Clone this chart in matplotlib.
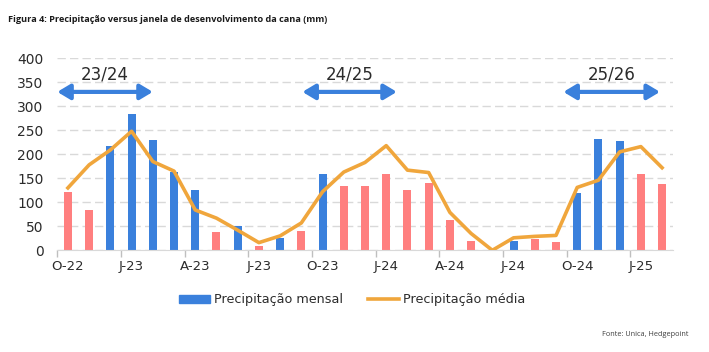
import matplotlib
matplotlib.use("Agg")
import matplotlib.pyplot as plt
import numpy as np
from matplotlib.patches import Patch
from matplotlib.lines import Line2D

months = ["O-22","N-22","D-22","J-23","F-23","M-23","A-23","M-23","J-23","J-23","A-23","S-23",
          "O-23","N-23","D-23","J-24","F-24","M-24","A-24","M-24","J-24","J-24","A-24","S-24",
          "O-24","N-24","D-24","J-25","F-25"]
monthly = [122, 84, 218, 285, 230, 164, 126, 38, 51, 8, 26, 40,
           160, 135, 135, 160, 126, 140, 64, 19, 0, 19, 24, 17,
           120, 231, 228, 159, 138]
above = [0, 0, 1, 1, 1, 1, 1, 0, 1, 0, 1, 0,
         1, 0, 0, 0, 0, 0, 0, 0, 0, 1, 0, 0,
         1, 1, 1, 0, 0]
average = [130, 178, 209, 248, 185, 165, 84, 67, 42, 16, 30, 57,
           122, 163, 183, 218, 167, 162, 79, 35, 0, 26, 29, 31,
           131, 146, 205, 216, 172]
seasons = ["23/24", "24/25", "25/26"]
season_start = [-0.5, 11.05, 23.35]
season_end = [4.0, 15.5, 27.9]

BLUE = "#3A80DC"
PINK = "#FF7F7F"
ORANGE = "#F0A63C"
TXT = "#2B2B2B"

plt.rcParams['font.family'] = ['DejaVu Sans']
fig = plt.figure(figsize=(7.09, 3.52), dpi=100)
ax = fig.add_axes([57.3/709, 1-250.3/352, (672.7-57.3)/709, 192/352])

x = np.arange(len(months))
cols = [BLUE if a else PINK for a in above]
ax.bar(x, monthly, width=0.38, color=cols, zorder=2)
ax.plot(x, average, color=ORANGE, lw=2.6, zorder=3)

ax.set_xlim(-0.5, len(months)-0.5)
ax.set_ylim(0, 400)
ax.set_yticks(np.arange(0, 401, 50))
ax.yaxis.grid(True, color="#D9D9D9", linestyle=(0, (6, 3)), lw=1.0, zorder=0)
ax.tick_params(axis='y', length=0, pad=10, labelsize=10, labelcolor=TXT)

lab_idx = list(range(0, len(months), 3))
ax.set_xticks([i - 0.5 for i in lab_idx])
ax.set_xticklabels([])
ax.set_xticks(lab_idx, minor=True)
ax.set_xticklabels([months[i] for i in lab_idx], minor=True)
ax.tick_params(axis='x', which='major', length=5, color="#BFBFBF", width=1)
ax.tick_params(axis='x', which='minor', length=0, pad=7, labelsize=9.5, labelcolor=TXT)

for s in ['top', 'right', 'left']:
    ax.spines[s].set_visible(False)
ax.spines['bottom'].set_color("#D9D9D9")

for lab, a, b in zip(seasons, season_start, season_end):
    ax.annotate("", xy=(b, 330), xytext=(a, 330),
                arrowprops=dict(arrowstyle='<|-|>,head_length=0.75,head_width=0.45',
                                lw=3.0, color=BLUE, shrinkA=0, shrinkB=0), zorder=4)
    ax.text((a + b) / 2, 367, lab, ha='center', va='center', fontsize=12, color=TXT)

handles = [Patch(color=BLUE, label="Precipitação mensal"),
           Line2D([0], [0], color=ORANGE, lw=2.6, label="Precipitação média")]
fig.legend(handles=handles, loc='center', bbox_to_anchor=(352/709, 1-300/352), ncol=2,
           frameon=False, fontsize=9.2, handlelength=2.4, handleheight=0.55, columnspacing=2.0,
           handletextpad=0.3, labelcolor=TXT)

fig.text(8/709, 1-20/352, "Figura 4: Precipitação versus janela de desenvolvimento da cana (mm)",
         fontsize=6.6, fontweight='bold', family=['Open Sans', 'DejaVu Sans'], va='center', ha='left',
         color="#1A1A1A")
fig.text(688/709, 1-335/352, "Fonte: Unica, Hedgepoint", fontsize=5.3, family=['Open Sans', 'DejaVu Sans'],
         va='center', ha='right', color="#404040")

fig.savefig("out.png", dpi=100)
